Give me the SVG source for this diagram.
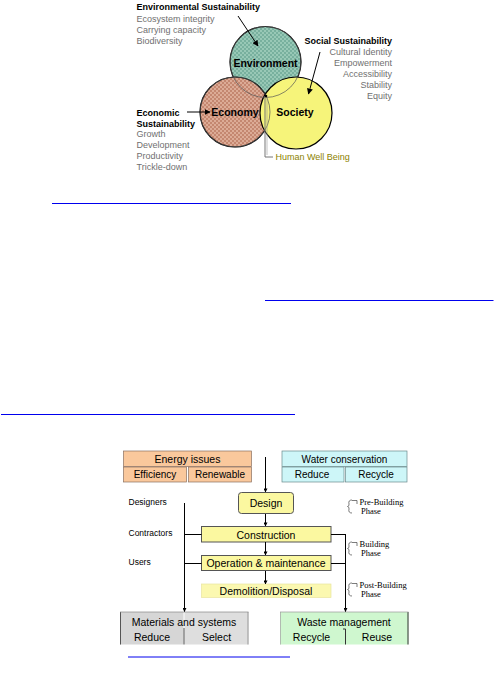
<svg xmlns="http://www.w3.org/2000/svg" width="495" height="685" viewBox="0 0 495 685">
<defs>
<pattern id="pEnv" width="4" height="4" patternUnits="userSpaceOnUse">
<rect width="4" height="4" fill="#98c8b6"/><rect width="2" height="2" fill="#78b09e"/><rect x="2" y="2" width="2" height="2" fill="#78b09e"/>
</pattern>
<pattern id="pEco" width="4" height="4" patternUnits="userSpaceOnUse">
<rect width="4" height="4" fill="#dcab96"/><rect width="2" height="2" fill="#c48770"/><rect x="2" y="2" width="2" height="2" fill="#c48770"/>
</pattern>
<marker id="ah" viewBox="0 0 10 10" refX="9" refY="5" markerWidth="6" markerHeight="6" orient="auto" markerUnits="userSpaceOnUse">
<path d="M0,0 L10,5 L0,10 z" fill="#000"/>
</marker>
<marker id="ahs" viewBox="0 0 10 10" refX="9" refY="5" markerWidth="4" markerHeight="4" orient="auto" markerUnits="userSpaceOnUse">
<path d="M0,0 L10,5 L0,10 z" fill="#000"/>
</marker>
</defs>
<style>
.vb{font-family:"Liberation Sans",Arial,sans-serif;font-weight:bold;font-size:9px;fill:#000}
.vg{font-family:"Liberation Sans",Arial,sans-serif;font-size:9px;fill:#707070}
.cl{font-family:"Liberation Sans",Arial,sans-serif;font-weight:bold;font-size:10.5px;fill:#000;text-anchor:middle}
.ft{font-family:"Liberation Sans",Arial,sans-serif;font-size:10.5px;fill:#000;text-anchor:middle}
.fs{font-family:"Liberation Sans",Arial,sans-serif;font-size:10px;fill:#000;text-anchor:middle}
.lt{font-family:"Liberation Sans",Arial,sans-serif;font-size:8.5px;fill:#000}
.ph{font-family:"Liberation Serif","Times New Roman",serif;font-size:8.5px;fill:#000}
.ln{stroke:#000;stroke-width:1;fill:none}
.ul{stroke:#0000ee;stroke-width:1}
.br{stroke:#444;stroke-width:0.7;fill:none}
</style>

<!-- Venn diagram -->
<g id="venn">
<g id="environment">
<circle cx="265.5" cy="62" r="35.5" fill="url(#pEnv)" stroke="#000" stroke-width="1.2"/>
</g>
<g id="economy">
<circle cx="235" cy="112" r="35" fill="url(#pEco)" stroke="#000" stroke-width="1.2"/>
</g>
<g id="society">
<circle cx="296" cy="113" r="36" fill="#f6f47a" stroke="#000" stroke-width="1.2"/>
</g>
<circle cx="265.5" cy="62" r="35.5" fill="none" stroke="#555" stroke-width="0.7"/>
<circle cx="235" cy="112" r="35" fill="none" stroke="#555" stroke-width="0.7"/>
<text class="cl" x="265.5" y="66.5">Environment</text>
<text class="cl" x="235" y="115.5">Economy</text>
<text class="cl" x="295" y="115.5">Society</text>
</g>

<g id="env-sustain">
<text class="vb" x="136.5" y="10">Environmental Sustainability</text>
<text class="vg" x="136.5" y="21.5">Ecosystem integrity</text>
<text class="vg" x="136.5" y="32.5">Carrying capacity</text>
<text class="vg" x="136.5" y="43.5">Biodiversity</text>
</g>
<g id="soc-sustain">
<text class="vb" x="392" y="43.5" text-anchor="end">Social Sustainability</text>
<text class="vg" x="392" y="54.5" text-anchor="end">Cultural Identity</text>
<text class="vg" x="392" y="65.5" text-anchor="end">Empowerment</text>
<text class="vg" x="392" y="76.5" text-anchor="end">Accessibility</text>
<text class="vg" x="392" y="87.5" text-anchor="end">Stability</text>
<text class="vg" x="392" y="98.5" text-anchor="end">Equity</text>
</g>
<g id="eco-sustain">
<text class="vb" x="136.5" y="115.5">Economic</text>
<text class="vb" x="136.5" y="126.5">Sustainability</text>
<text class="vg" x="136.5" y="137">Growth</text>
<text class="vg" x="136.5" y="148">Development</text>
<text class="vg" x="136.5" y="159">Productivity</text>
<text class="vg" x="136.5" y="170">Trickle-down</text>
</g>
<g id="human-well-being">
<path d="M265,96 V157 H273" stroke="#777" stroke-width="1" fill="none"/>
<line x1="267" y1="98" x2="267" y2="155" stroke="#999" stroke-width="0.6"/>
<circle cx="266" cy="96" r="1.3" fill="#000"/>
<text x="275.5" y="160" font-family="Liberation Sans, Arial, sans-serif" font-size="9" fill="#8c8200">Human Well Being</text>
</g>
<g id="venn-connectors">
<line class="ln" x1="238" y1="16" x2="258" y2="46" marker-end="url(#ah)"/>
<line class="ln" x1="320" y1="52" x2="308.5" y2="94" marker-end="url(#ah)"/>
<line class="ln" x1="187" y1="112" x2="210" y2="112" marker-end="url(#ah)"/>
</g>

<!-- link underlines -->
<g id="links">
<line class="ul" x1="52" y1="203.5" x2="291" y2="203.5"/>
<line class="ul" x1="265" y1="300.5" x2="493.5" y2="300.5"/>
<line class="ul" x1="1" y1="414.5" x2="295" y2="414.5"/>
<line class="ul" x1="128" y1="657" x2="290" y2="657"/>
</g>

<!-- Flowchart -->
<g id="energy-issues">
<rect x="123.5" y="451" width="128" height="15.5" fill="#fac89c" stroke="#8a7060" stroke-width="0.7"/>
<rect x="123.5" y="467" width="63" height="15" fill="#fac89c" stroke="#8a7060" stroke-width="0.7"/>
<rect x="188.5" y="467" width="63" height="15" fill="#fac89c" stroke="#8a7060" stroke-width="0.7"/>
<text class="ft" x="187.5" y="462.5">Energy issues</text>
<text class="fs" x="155" y="478">Efficiency</text>
<text class="fs" x="220" y="478">Renewable</text>
</g>
<g id="water-conservation">
<rect x="282" y="451" width="125" height="15.5" fill="#cdf6f8" stroke="#6a8a8c" stroke-width="0.7"/>
<rect x="282" y="467" width="62" height="15" fill="#cdf6f8" stroke="#6a8a8c" stroke-width="0.7"/>
<rect x="345.5" y="467" width="61.5" height="15" fill="#cdf6f8" stroke="#6a8a8c" stroke-width="0.7"/>
<text class="fs" x="344.5" y="462.5">Water conservation</text>
<text class="fs" x="312" y="478">Reduce</text>
<text class="fs" x="376" y="478">Recycle</text>
</g>
<g id="design">
<rect x="238.5" y="492.5" width="55" height="21" rx="3" fill="#fbf8a0" stroke="#555" stroke-width="1"/>
<text class="ft" x="266" y="507">Design</text>
</g>
<g id="construction">
<rect x="201.5" y="526.5" width="129.5" height="15.5" fill="#fbf8a0" stroke="#555" stroke-width="1"/>
<text class="ft" x="266" y="538.5">Construction</text>
</g>
<g id="operation">
<rect x="201.5" y="555.5" width="129.5" height="15" fill="#fbf8a0" stroke="#555" stroke-width="1"/>
<text class="ft" x="266" y="567">Operation &amp; maintenance</text>
</g>
<g id="demolition">
<rect x="201.5" y="584" width="129.5" height="13.5" fill="#fbf8b0" stroke="#e8e4a0" stroke-width="0.7"/>
<text class="ft" x="266" y="595">Demolition/Disposal</text>
</g>
<g id="materials">
<rect x="120" y="612" width="63.5" height="32.5" fill="#d6d6d6"/>
<rect x="184.5" y="612" width="64" height="32.5" fill="#dedede"/>
<line x1="120.5" y1="612" x2="120.5" y2="644.5" stroke="#555" stroke-width="1"/>
<line x1="248" y1="612" x2="248" y2="644.5" stroke="#999" stroke-width="1"/>
<line x1="120" y1="612" x2="248.5" y2="612" stroke="#888" stroke-width="0.7"/>
<line x1="184" y1="628" x2="184" y2="644.5" stroke="#555" stroke-width="1"/>
<text class="ft" x="184" y="625.5">Materials and systems</text>
<text class="ft" x="152" y="640.5">Reduce</text>
<text class="ft" x="216.5" y="640.5">Select</text>
</g>
<g id="waste">
<rect x="280" y="612" width="128.5" height="32.5" fill="#cff7cf"/>
<line x1="280.5" y1="612" x2="280.5" y2="644.5" stroke="#aaa" stroke-width="0.8"/>
<line x1="408" y1="612" x2="408" y2="644.5" stroke="#333" stroke-width="1"/>
<line x1="280" y1="612" x2="408.5" y2="612" stroke="#999" stroke-width="0.7"/>
<path d="M343,629 H345.5 V644.5" stroke="#333" stroke-width="1" fill="none"/>
<text class="ft" x="344" y="625.5">Waste management</text>
<text class="ft" x="311.5" y="640.5">Recycle</text>
<text class="ft" x="377" y="640.5">Reuse</text>
</g>
<g id="roles">
<text class="lt" x="128.5" y="504.5">Designers</text>
<text class="lt" x="128.5" y="536">Contractors</text>
<text class="lt" x="128.5" y="564.5">Users</text>
</g>
<g id="phases">
<path class="br" d="M352,500 Q348,500 349,504 Q349.5,506 347.5,506.5 Q349.5,507 349,509 Q348,513 352,513"/>
<path class="br" d="M352,500.5 H357 V504"/>
<text class="ph" x="359.5" y="504.5">Pre-Building</text>
<text class="ph" x="361" y="514">Phase</text>
<path class="br" d="M352,542 Q348,542 349,546 Q349.5,548 347.5,548.5 Q349.5,549 349,551 Q348,555 352,555"/>
<path class="br" d="M352,542.5 H357 V546"/>
<text class="ph" x="359.5" y="546.5">Building</text>
<text class="ph" x="361" y="556">Phase</text>
<path class="br" d="M352,583 Q348,583 349,587 Q349.5,589 347.5,589.5 Q349.5,590 349,592 Q348,596 352,596"/>
<path class="br" d="M352,583.5 H357 V587"/>
<text class="ph" x="359.5" y="587.5">Post-Building</text>
<text class="ph" x="361" y="597">Phase</text>
</g>
<g id="connectors">
<line class="ln" x1="265.5" y1="457" x2="265.5" y2="492" marker-end="url(#ahs)"/>
<line class="ln" x1="265.5" y1="514" x2="265.5" y2="526" marker-end="url(#ahs)"/>
<line class="ln" x1="265.5" y1="542" x2="265.5" y2="555" marker-end="url(#ahs)"/>
<line class="ln" x1="265.5" y1="571" x2="265.5" y2="584" marker-end="url(#ahs)"/>
<line class="ln" x1="184.5" y1="503" x2="184.5" y2="611.5" marker-end="url(#ahs)"/>
<line class="ln" x1="184.5" y1="534.5" x2="201.5" y2="534.5"/>
<line class="ln" x1="184.5" y1="563.5" x2="201.5" y2="563.5"/>
<line class="ln" x1="331" y1="534.5" x2="345.5" y2="534.5"/>
<line class="ln" x1="331" y1="563.5" x2="345.5" y2="563.5"/>
<line class="ln" x1="345.5" y1="534" x2="345.5" y2="611.5" marker-end="url(#ahs)"/>
</g>
</svg>
